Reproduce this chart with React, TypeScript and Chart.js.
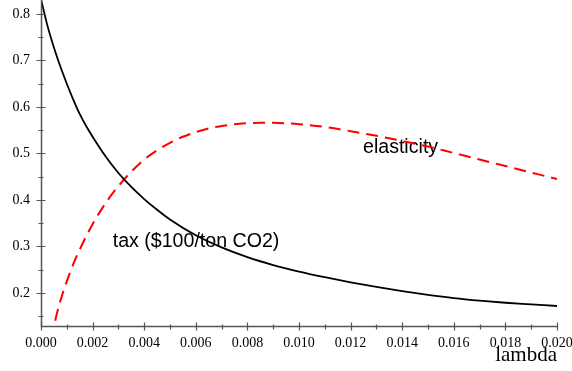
import React, { useEffect, useRef } from 'react';
import { Chart, registerables } from 'chart.js';

Chart.register(...registerables);

// lambda values and tax ($100/ton CO2)
const taxLambda = [0, 0.00025, 0.0005, 0.00075, 0.001, 0.00125, 0.0015, 0.00175, 0.002, 0.0025, 0.003, 0.0035, 0.004, 0.0045, 0.005, 0.006, 0.007, 0.008, 0.009, 0.010, 0.011, 0.012, 0.013, 0.014, 0.015, 0.016, 0.017, 0.018, 0.019, 0.020];
const taxValues = [0.832, 0.775, 0.728, 0.687, 0.650, 0.616, 0.585, 0.559, 0.536, 0.494, 0.458, 0.428, 0.402, 0.379, 0.358, 0.324, 0.298, 0.277, 0.260, 0.246, 0.234, 0.223, 0.213, 0.204, 0.196, 0.189, 0.1835, 0.179, 0.1755, 0.172];

// lambda values and elasticity
const elastLambda = [0.0004, 0.0006, 0.0008, 0.001, 0.00125, 0.0015, 0.00175, 0.002, 0.0025, 0.003, 0.0035, 0.004, 0.0045, 0.005, 0.0055, 0.006, 0.0065, 0.007, 0.0075, 0.008, 0.0085, 0.009, 0.0095, 0.010, 0.011, 0.012, 0.013, 0.014, 0.015, 0.016, 0.017, 0.018, 0.019, 0.020];
const elastValues = [0.10, 0.152, 0.192, 0.225, 0.262, 0.293, 0.322, 0.348, 0.393, 0.430, 0.461, 0.487, 0.507, 0.523, 0.536, 0.546, 0.554, 0.559, 0.563, 0.565, 0.566, 0.566, 0.565, 0.563, 0.557, 0.548, 0.538, 0.527, 0.515, 0.501, 0.487, 0.473, 0.459, 0.445];

const xTickValues = [0, 0.002, 0.004, 0.006, 0.008, 0.010, 0.012, 0.014, 0.016, 0.018, 0.020];
const xMinorTicks = [0.001, 0.003, 0.005, 0.007, 0.009, 0.011, 0.013, 0.015, 0.017, 0.019];
const yTickValues = [0.2, 0.3, 0.4, 0.5, 0.6, 0.7, 0.8];
const yMinorTicks = [0.15, 0.25, 0.35, 0.45, 0.55, 0.65, 0.75];

const xRange = [0, 0.02];
const yRange = [0.129, 0.8301];

const xTitle = 'lambda';
const taxLabel = 'tax ($100/ton CO2)';
const elastLabel = 'elasticity';
// anchor (left, baseline) of curve labels in data coordinates
const taxLabelAt = [0.00278, 0.299];
const elastLabelAt = [0.01248, 0.501];

const AXIS_COLOR = '#555555';

const mapleAxes = {
  id: 'mapleAxes',
  beforeDatasetsDraw(chart: any) {
    const { ctx, scales } = chart;
    const xs = scales.x;
    const ys = scales.y;
    ctx.save();
    ctx.fillStyle = '#000000';
    ctx.font = '19.6px "Liberation Sans", Arial, sans-serif';
    ctx.textAlign = 'left';
    ctx.textBaseline = 'alphabetic';
    ctx.fillText(elastLabel, xs.getPixelForValue(elastLabelAt[0]), ys.getPixelForValue(elastLabelAt[1]));
    ctx.fillText(taxLabel, xs.getPixelForValue(taxLabelAt[0]), ys.getPixelForValue(taxLabelAt[1]));
    ctx.restore();
  },
  afterDraw(chart: any) {
    const { ctx, chartArea, scales } = chart;
    const xs = scales.x;
    const ys = scales.y;
    const ax = Math.round(xs.getPixelForValue(0)) + 0.5;
    const ay = Math.round(chartArea.bottom) + 0.5;
    ctx.save();
    ctx.strokeStyle = AXIS_COLOR;
    ctx.lineWidth = 1.5;
    ctx.beginPath();
    ctx.moveTo(ax, 0);
    ctx.lineTo(ax, ay);
    ctx.lineTo(chartArea.right, ay);
    ctx.stroke();
    ctx.lineWidth = 1.2;
    ctx.beginPath();
    for (const v of yTickValues) {
      const p = Math.round(ys.getPixelForValue(v)) + 0.5;
      ctx.moveTo(ax - 5, p);
      ctx.lineTo(ax + 4, p);
    }
    for (const v of yMinorTicks) {
      const p = Math.round(ys.getPixelForValue(v)) + 0.5;
      ctx.moveTo(ax - 3, p);
      ctx.lineTo(ax + 2, p);
    }
    for (const v of xTickValues) {
      const p = Math.round(xs.getPixelForValue(v)) + 0.5;
      ctx.moveTo(p, ay - 4);
      ctx.lineTo(p, ay + 4);
    }
    for (const v of xMinorTicks) {
      const p = Math.round(xs.getPixelForValue(v)) + 0.5;
      ctx.moveTo(p, ay - 2);
      ctx.lineTo(p, ay + 3);
    }
    ctx.stroke();
    ctx.restore();
  },
};

export default function App() {
  const ref = useRef<HTMLCanvasElement>(null);
  useEffect(() => {
    if (!ref.current) return;
    const chart = new Chart(ref.current, {
      type: 'line',
      data: {
        datasets: [
          {
            label: taxLabel,
            data: taxLambda.map((x, i) => ({ x, y: taxValues[i] })),
            borderColor: '#000000',
            borderWidth: 1.8,
            pointRadius: 0,
            cubicInterpolationMode: 'monotone',
            fill: false,
          },
          {
            label: elastLabel,
            data: elastLambda.map((x, i) => ({ x, y: elastValues[i] })),
            borderColor: '#ff0000',
            borderWidth: 2,
            borderDash: [12, 7],
            pointRadius: 0,
            cubicInterpolationMode: 'monotone',
            fill: false,
          },
        ],
      },
      options: {
        responsive: false,
        animation: false,
        layout: { padding: { left: 0, right: 15, top: 0, bottom: 0 } },
        plugins: { legend: { display: false }, tooltip: { enabled: false } },
        scales: {
          x: {
            type: 'linear',
            min: xRange[0],
            max: xRange[1],
            grid: { display: false, drawTicks: false },
            border: { display: false },
            afterBuildTicks: (s: any) => {
              s.ticks = xTickValues.map((value) => ({ value }));
            },
            afterFit: (s: any) => {
              s.height = 45;
              s.paddingLeft = 0;
              s.paddingRight = 0;
            },
            ticks: {
              maxRotation: 0,
              autoSkip: false,
              padding: 9,
              color: '#000000',
              font: { family: '"Liberation Serif", "Times New Roman", serif', size: 14 },
              callback: (v: any) => Number(v).toFixed(3),
            },
            title: {
              display: true,
              text: xTitle,
              align: 'end',
              color: '#000000',
              padding: { top: 0, bottom: 3 },
              font: { family: '"Liberation Serif", "Times New Roman", serif', size: 21 },
            },
          },
          y: {
            type: 'linear',
            min: yRange[0],
            max: yRange[1],
            grid: { display: false, drawTicks: false },
            border: { display: false },
            afterBuildTicks: (s: any) => {
              s.ticks = yTickValues.map((value) => ({ value }));
            },
            afterFit: (s: any) => {
              s.width = 41;
              s.paddingTop = 0;
              s.paddingBottom = 0;
            },
            ticks: {
              padding: 11,
              autoSkip: false,
              color: '#000000',
              font: { family: '"Liberation Serif", "Times New Roman", serif', size: 14 },
              callback: (v: any) => Number(v).toFixed(1),
            },
          },
        },
      },
      plugins: [mapleAxes],
    } as any);
    return () => chart.destroy();
  }, []);
  return (
    <div style={{ position: 'fixed', left: 0, top: 0, width: 572, height: 371, background: '#ffffff' }}>
      <canvas ref={ref} width={572} height={371} style={{ display: 'block' }} />
    </div>
  );
}
